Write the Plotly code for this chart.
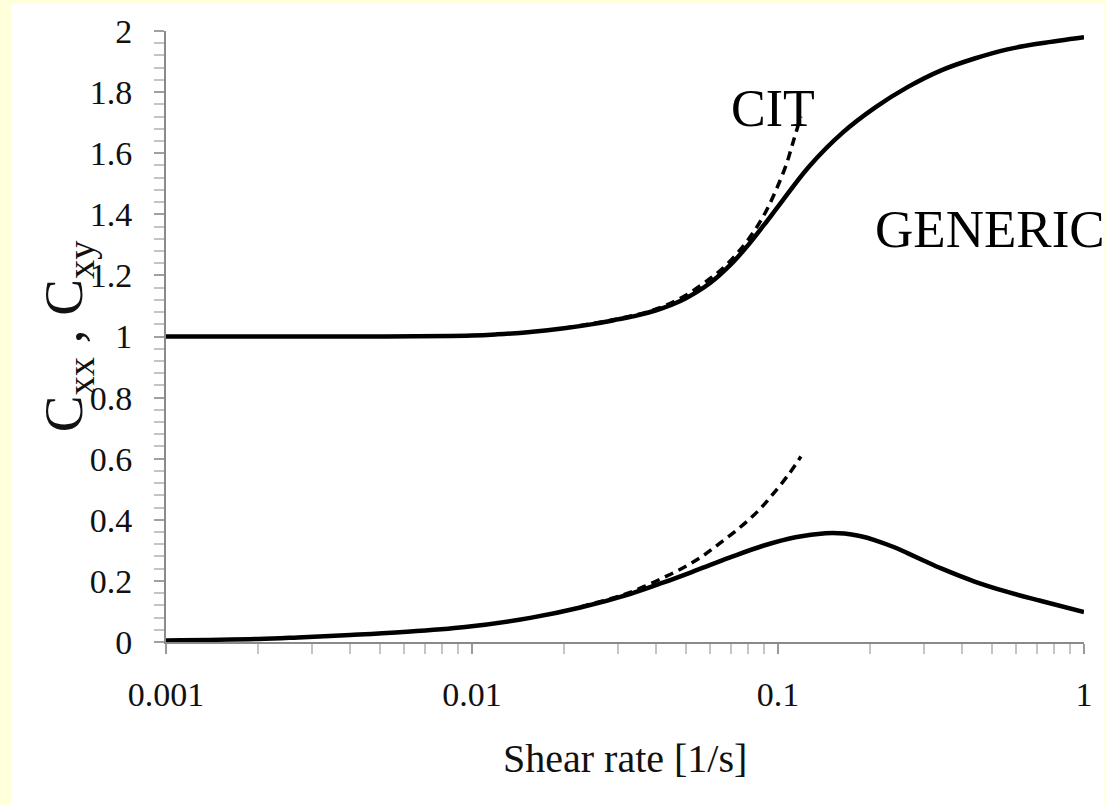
import plotly.graph_objects as go

# Shear rate [1/s] and conformation tensor components
gen_xx_rate = [0.001, 0.002, 0.005, 0.01, 0.0121, 0.0155, 0.02, 0.0257, 0.03, 0.035,
               0.04, 0.045, 0.05, 0.06, 0.07, 0.08, 0.09, 0.1, 0.126, 0.163, 0.208,
               0.266, 0.343, 0.439, 0.562, 0.725, 1.0]
gen_xx = [1.0, 1.0, 1.0, 1.003, 1.007, 1.015, 1.027, 1.043, 1.056, 1.07,
          1.086, 1.104, 1.125, 1.175, 1.235, 1.30, 1.365, 1.425, 1.555, 1.668, 1.75,
          1.817, 1.872, 1.91, 1.94, 1.96, 1.98]

cit_xx_rate = [0.02, 0.03, 0.04, 0.05, 0.06, 0.0663, 0.0747, 0.0836, 0.0914, 0.0986,
               0.1062, 0.1127, 0.1188]
cit_xx = [1.027, 1.058, 1.09, 1.135, 1.19, 1.225, 1.28, 1.345, 1.41, 1.48,
          1.56, 1.645, 1.72]

gen_xy_rate = [0.001, 0.002, 0.0027, 0.004, 0.0058, 0.0095, 0.0155, 0.0226, 0.0328,
               0.0423, 0.0542, 0.0694, 0.0894, 0.114, 0.143, 0.165, 0.185, 0.208,
               0.24, 0.266, 0.3, 0.343, 0.439, 0.562, 0.72, 1.0]
gen_xy = [0.005, 0.01, 0.015, 0.023, 0.032, 0.049, 0.079, 0.113, 0.157,
          0.195, 0.235, 0.276, 0.315, 0.343, 0.356, 0.355, 0.347, 0.333,
          0.31, 0.29, 0.266, 0.24, 0.198, 0.164, 0.135, 0.098]

cit_xy_rate = [0.0226, 0.0313, 0.0364, 0.0423, 0.049, 0.0561, 0.0643, 0.0747, 0.0859,
               0.0964, 0.1086, 0.1188]
cit_xy = [0.115, 0.155, 0.181, 0.211, 0.243, 0.278, 0.322, 0.373, 0.428,
          0.485, 0.55, 0.607]

x_tick_vals = [0.001, 0.01, 0.1, 1]
x_tick_text = ["0.001", "0.01", "0.1", "1"]

FONT = "Liberation Serif"
W, H = 1105, 805
L, R, T, B = 166, 15, 31, 163
pw, ph = W - L - R, H - T - B


def px_x(p):
    return (p - L) / pw


def px_y(p):
    return (H - B - p) / ph


fig = go.Figure()

solid = dict(color="black", width=4.5)
dashed = dict(color="black", width=3.5, dash="9px,6px")

fig.add_trace(go.Scatter(x=gen_xx_rate, y=gen_xx, mode="lines",
                         line=dict(**solid, shape="spline", smoothing=1.0), cliponaxis=False))
fig.add_trace(go.Scatter(x=cit_xx_rate, y=cit_xx, mode="lines",
                         line=dict(**dashed, shape="spline", smoothing=1.0)))
fig.add_trace(go.Scatter(x=gen_xy_rate, y=gen_xy, mode="lines",
                         line=dict(**solid, shape="spline", smoothing=1.0), cliponaxis=False))
fig.add_trace(go.Scatter(x=cit_xy_rate, y=cit_xy, mode="lines",
                         line=dict(**dashed, shape="spline", smoothing=1.0)))

minor_x = [m * 10 ** e for e in (-3, -2, -1) for m in range(2, 10)]

fig.update_xaxes(
    type="log", range=[-3, 0],
    showline=True, linecolor="#8a8a8a", linewidth=2,
    showgrid=False, zeroline=False,
    ticks="outside", ticklen=10, tickwidth=2, tickcolor="#9a9a9a",
    tickmode="array", tickvals=x_tick_vals, ticktext=x_tick_text,
    tickfont=dict(family=FONT, size=34, color="#111"),
    ticklabelstandoff=11,
    minor=dict(ticks="outside", ticklen=10, tickwidth=2, tickcolor="#c4c4c4",
               tickmode="array", tickvals=minor_x, showgrid=False),
)
fig.update_yaxes(
    range=[0, 2], dtick=0.2, tick0=0,
    showline=True, linecolor="#8a8a8a", linewidth=2,
    showgrid=False, zeroline=False,
    ticks="outside", ticklen=10, tickwidth=2, tickcolor="#a0a0a0",
    tickfont=dict(family=FONT, size=34, color="#111"),
    ticklabelstandoff=15,
    minor=dict(ticks="outside", ticklen=10, tickwidth=2, tickcolor="#c4c4c4",
               dtick=0.04, tick0=0, showgrid=False),
)

annotations = [
    dict(text="Shear rate [1/s]", x=0.5, y=px_y(758), xref="paper", yref="paper",
         xanchor="center", yanchor="middle", showarrow=False,
         font=dict(family=FONT, size=40, color="#111")),
    dict(text="C<sub>xx</sub> , C<sub>xy</sub>", x=px_x(67), y=0.5, xref="paper", yref="paper",
         xanchor="center", yanchor="middle", textangle=-90, showarrow=False,
         font=dict(family=FONT, size=55, color="#111")),
    dict(text="CIT", x=px_x(777), y=px_y(108), xref="paper", yref="paper",
         xanchor="center", yanchor="middle", showarrow=False,
         font=dict(family=FONT, size=52, color="black")),
    dict(text="GENERIC", x=px_x(878), y=px_y(229), xref="paper", yref="paper",
         xanchor="left", yanchor="middle", showarrow=False,
         font=dict(family=FONT, size=53, color="black")),
]

# white sheet over the pale yellow page, leaving a thin border on the left and top
shapes = [
    dict(type="rect", xref="paper", yref="paper", layer="below",
         x0=px_x(10), x1=px_x(W + 5), y0=px_y(H + 5), y1=px_y(4),
         fillcolor="white", line=dict(width=0)),
]

fig.update_layout(
    width=W, height=H, autosize=False,
    margin=dict(l=L, r=R, t=T, b=B, pad=0),
    paper_bgcolor="#FFFFDA", plot_bgcolor="white",
    showlegend=False,
    annotations=annotations, shapes=shapes,
)

fig.write_html("out.html")
